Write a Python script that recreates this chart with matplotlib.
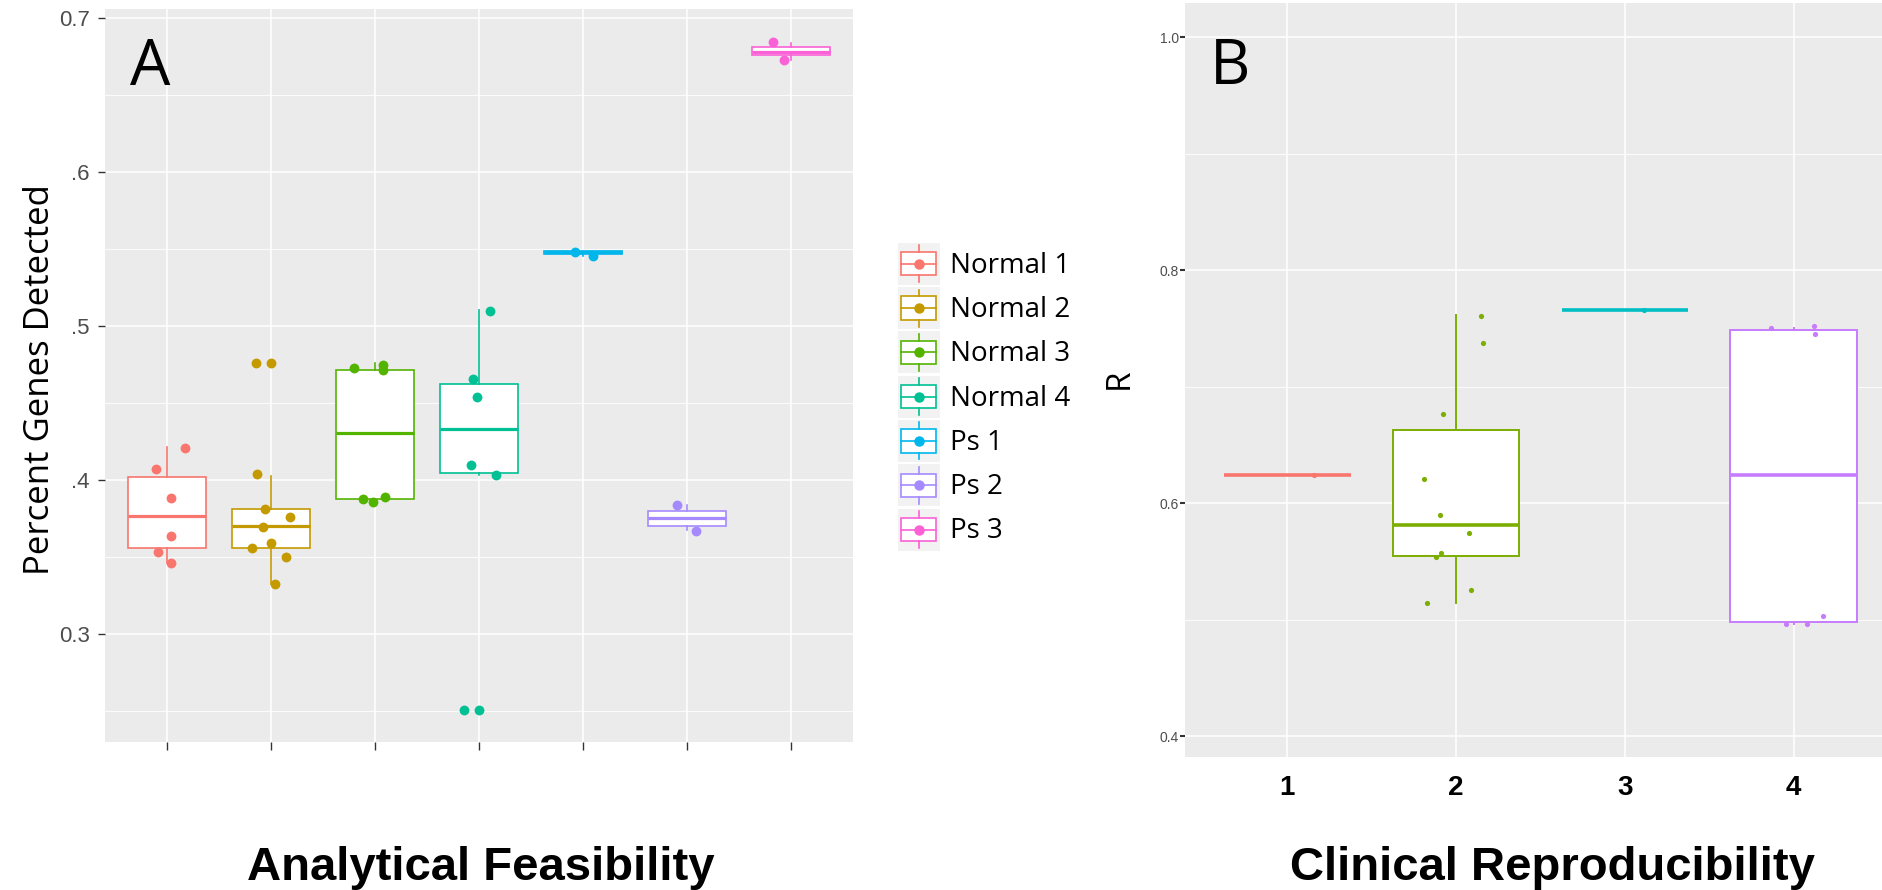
import numpy as np
import matplotlib.pyplot as plt
from matplotlib.legend_handler import HandlerBase
from matplotlib.patches import Rectangle
from matplotlib.lines import Line2D

# panel A: percent genes detected, one box per sample
samples_a = ['Normal 1', 'Normal 2', 'Normal 3', 'Normal 4', 'Ps 1', 'Ps 2', 'Ps 3']
colors_a = ['#F8766D', '#C49A00', '#53B400', '#00C094', '#00B6EB', '#A58AFF', '#FB61D7']
# box stats
whislo_a = [0.3461, 0.3325, 0.3860, 0.4036, 0.5457, 0.3677, 0.6729]
q1_a = [0.3558, 0.3558, 0.3877, 0.4050, 0.5472, 0.3705, 0.6762]
med_a = [0.3768, 0.3706, 0.4305, 0.4333, 0.5480, 0.3753, 0.6779]
q3_a = [0.4023, 0.3814, 0.4716, 0.4625, 0.5486, 0.3802, 0.6816]
whishi_a = [0.4214, 0.4030, 0.4760, 0.5106, 0.5490, 0.3838, 0.6842]
# jittered points (value, horizontal offset from the box centre)
points_a = [
    [0.4212, 0.4073, 0.3887, 0.3638, 0.3536, 0.3461],
    [0.4764, 0.4764, 0.4039, 0.3812, 0.3762, 0.3697, 0.3591, 0.3561, 0.3500, 0.3325],
    [0.4727, 0.4749, 0.4716, 0.3877, 0.3860, 0.3890],
    [0.5100, 0.4656, 0.4539, 0.4101, 0.4036, 0.2508, 0.2508],
    [0.5480, 0.5457],
    [0.3838, 0.3672],
    [0.6848, 0.6729],
]
jitter_a = [
    [0.166, -0.110, 0.033, 0.033, -0.094, 0.033],
    [-0.149, 0.0, -0.133, -0.061, 0.182, -0.077, 0.0, -0.188, 0.144, 0.033],
    [-0.204, 0.072, 0.072, -0.116, -0.017, 0.094],
    [0.105, -0.061, -0.022, -0.077, 0.166, -0.149, 0.0],
    [-0.072, 0.094],
    [-0.094, 0.088],
    [-0.171, -0.061],
]

# panel B: correlation R per group
groups_b = ['1', '2', '3', '4']
colors_b = ['#F8766D', '#7CAE00', '#00BFC4', '#C77CFF']
whislo_b = [0.6243, 0.5140, 0.7654, 0.4960]
q1_b = [0.6243, 0.5548, 0.7654, 0.4977]
med_b = [0.6243, 0.5814, 0.7654, 0.6243]
q3_b = [0.6243, 0.6628, 0.7654, 0.7483]
whishi_b = [0.6243, 0.7611, 0.7654, 0.7506]
points_b = [
    [0.6243],
    [0.7605, 0.7377, 0.6768, 0.6203, 0.5897, 0.5743, 0.5574, 0.5540, 0.5257, 0.5145],
    [0.7654],
    [0.7506, 0.7520, 0.7454, 0.4960, 0.4960, 0.5034],
]
jitter_b = [
    [0.158],
    [0.145, 0.160, -0.077, -0.188, -0.095, 0.075, -0.089, -0.121, 0.089, -0.172],
    [0.113],
    [-0.136, 0.122, 0.128, -0.045, 0.082, 0.176],
]

GRAY_BG = '#EBEBEB'
TICK_GRAY = '#4D4D4D'


class BoxKey(HandlerBase):
    # ggplot-like legend key: box + whiskers + dot on a light gray square
    def create_artists(self, legend, orig_handle, xdescent, ydescent,
                       width, height, fontsize, trans):
        c = orig_handle.get_color()
        x0, y0 = -xdescent, -ydescent
        cx, cy = x0 + width / 2, y0 + height / 2
        bg = Rectangle((x0, y0), width, height, facecolor='#F2F2F2',
                       edgecolor='none', transform=trans)
        box = Rectangle((x0 + 0.08 * width, y0 + 0.22 * height), 0.84 * width,
                        0.56 * height, facecolor='white', edgecolor=c, lw=1.2,
                        transform=trans)
        w_lo = Line2D([cx, cx], [y0 + 0.06 * height, y0 + 0.22 * height],
                      color=c, lw=1.2, transform=trans)
        w_hi = Line2D([cx, cx], [y0 + 0.78 * height, y0 + 0.94 * height],
                      color=c, lw=1.2, transform=trans)
        med = Line2D([x0 + 0.08 * width, x0 + 0.92 * width], [cy, cy],
                     color=c, lw=1.2, transform=trans)
        dot = Line2D([cx], [cy], marker='o', markersize=6.5, color=c,
                     linestyle='none', transform=trans)
        return [bg, box, w_lo, w_hi, med, dot]


def draw_boxes(ax, colors, lo, q1, med, q3, hi, points, jitter, lw, mlw, ps):
    for i, c in enumerate(colors):
        stats = [dict(whislo=lo[i], q1=q1[i], med=med[i], q3=q3[i], whishi=hi[i])]
        ax.bxp(stats, positions=[i + 1], widths=0.75, patch_artist=True,
               showfliers=False, showcaps=False, manage_ticks=False,
               boxprops=dict(facecolor='white', edgecolor=c, linewidth=lw),
               medianprops=dict(color=c, linewidth=mlw),
               whiskerprops=dict(color=c, linewidth=lw))
        xs = np.array(jitter[i]) + i + 1
        ax.scatter(xs, points[i], s=ps, color=c, zorder=5, linewidths=0)


def style(ax):
    ax.set_facecolor(GRAY_BG)
    for s in ax.spines.values():
        s.set_visible(False)
    ax.set_axisbelow(True)
    ax.grid(which='major', color='white', linewidth=1.1)
    ax.grid(which='minor', axis='y', color='white', linewidth=0.6)
    ax.tick_params(which='minor', length=0)


fig = plt.figure(figsize=(18.82, 8.90), dpi=100)

# ---- panel A ----
ax_a = fig.add_axes([105 / 1882, 1 - 742 / 890, 748 / 1882, 733 / 890])
style(ax_a)
draw_boxes(ax_a, colors_a, whislo_a, q1_a, med_a, q3_a, whishi_a,
           points_a, jitter_a, 1.2, 2.3, 50)
ax_a.set_xlim(0.4, 7.6)
ax_a.set_ylim(0.2301, 0.706)
ax_a.set_xticks(range(1, 8))
ax_a.set_xticklabels([])
ax_a.set_yticks([0.3, 0.4, 0.5, 0.6, 0.7])
ax_a.set_yticklabels(['0.3', '.4', '.5', '.6', '0.7'])
ax_a.set_yticks([0.25, 0.35, 0.45, 0.55, 0.65], minor=True)
ax_a.tick_params(axis='y', which='major', length=5, width=1, color='#333333',
                 pad=6, labelsize=16, labelcolor=TICK_GRAY)
ax_a.tick_params(axis='x', which='major', length=5.5, width=1, color='#333333')
for t in ax_a.get_yticklabels():
    t.set_family('Liberation Sans')
ax_a.set_ylabel('Percent Genes Detected', fontsize=25, family='Open Sans',
                va='baseline')
ax_a.yaxis.set_label_coords(-0.0749, 0.495)
ax_a.set_xlabel('Analytical Feasibility', fontsize=34, fontweight='bold',
                family='Liberation Sans', va='baseline')
ax_a.xaxis.set_label_coords(0.5027, -0.1883)
ax_a.text(0.0334, 0.896, 'A', transform=ax_a.transAxes, fontsize=46,
          family='Open Sans', ha='left', va='baseline')

handles = [Line2D([], [], color=c) for c in colors_a]
fig.legend(handles, samples_a, handler_map={Line2D: BoxKey()},
           loc='upper left', bbox_to_anchor=(897.7 / 1882, 1 - 242.7 / 890),
           frameon=False, borderpad=0, borderaxespad=0,
           handlelength=1.51, handleheight=1.95, labelspacing=0.083,
           handletextpad=0.36, prop={'family': 'Open Sans', 'size': 20})

# ---- panel B ----
ax_b = fig.add_axes([1185 / 1882, 1 - 756.7 / 890, 697 / 1882, 753.7 / 890])
style(ax_b)
draw_boxes(ax_b, colors_b, whislo_b, q1_b, med_b, q3_b, whishi_b,
           points_b, jitter_b, 1.4, 2.6, 14)
ax_b.set_xlim(0.394, 4.524)
ax_b.set_ylim(0.3823, 1.0294)
ax_b.set_xticks(range(1, 5))
ax_b.set_xticklabels(groups_b)
ax_b.set_yticks([0.4, 0.6, 0.8, 1.0])
ax_b.set_yticklabels(['0.4', '0.6', '0.8', '1.0'])
ax_b.set_yticks([0.5, 0.7, 0.9], minor=True)
ax_b.tick_params(axis='x', which='major', length=0, pad=13, labelsize=20)
ax_b.tick_params(axis='y', which='major', length=3.5, width=1.5,
                 color='#333333', pad=1, labelsize=10, labelcolor=TICK_GRAY)
for t in ax_b.get_xticklabels():
    t.set_family('Liberation Sans')
    t.set_fontweight('bold')
for t in ax_b.get_yticklabels():
    t.set_family('Liberation Sans')
ax_b.set_ylabel('R', fontsize=24, family='Open Sans', va='baseline')
ax_b.yaxis.set_label_coords(-0.0818, 0.502)
ax_b.set_xlabel('Clinical Reproducibility', fontsize=34, fontweight='bold',
                family='Liberation Sans', va='baseline')
ax_b.xaxis.set_label_coords(0.5265, -0.1636)
ax_b.text(0.036, 0.8925, 'B', transform=ax_b.transAxes, fontsize=45,
          family='Open Sans', ha='left', va='baseline')

fig.savefig('out.png', dpi=100)
